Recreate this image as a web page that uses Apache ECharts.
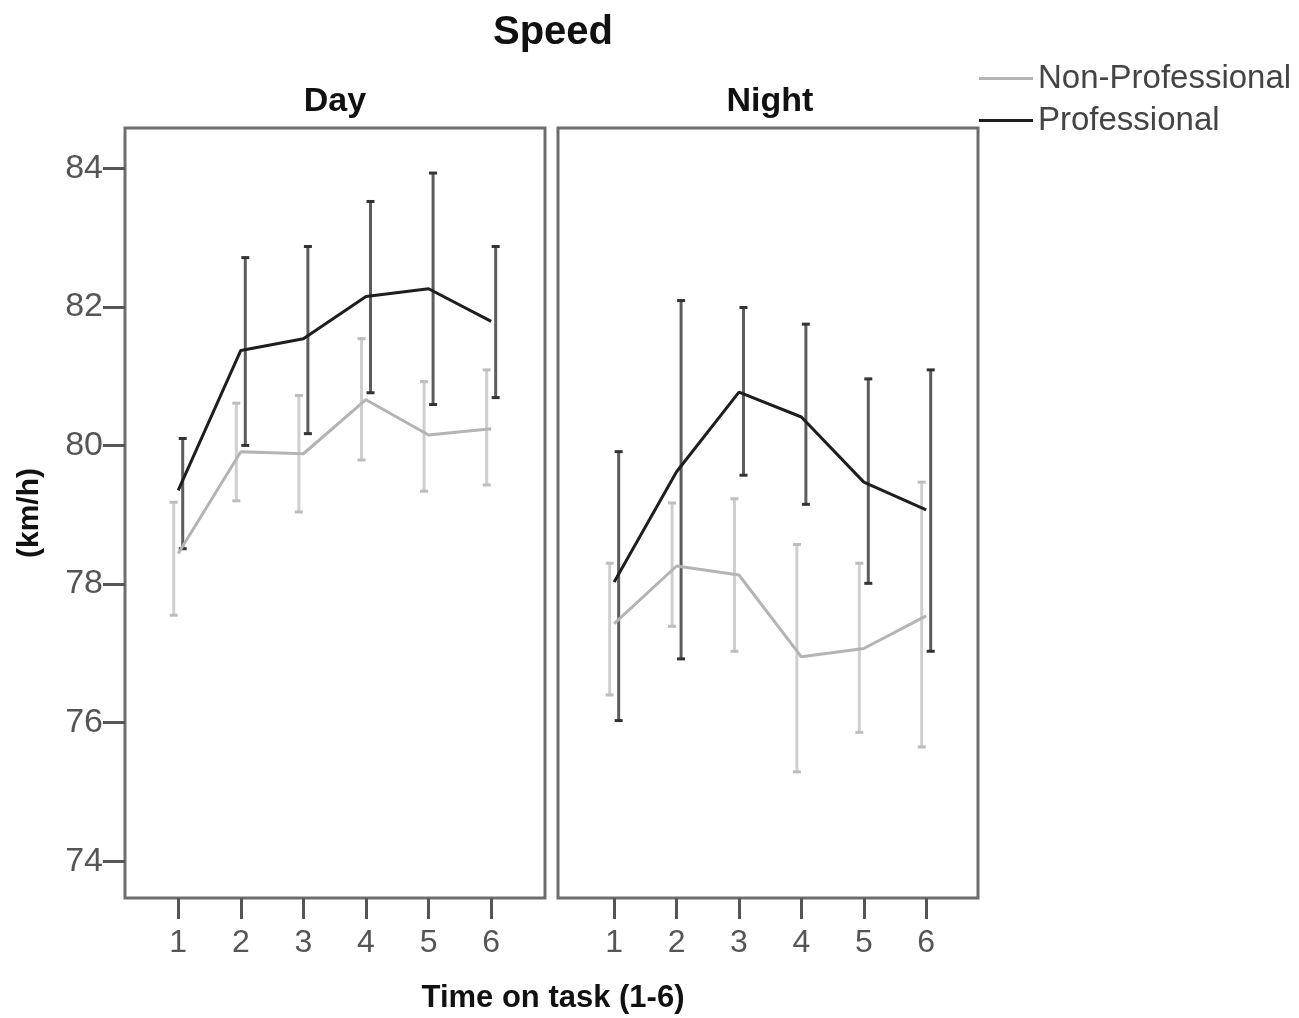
<!DOCTYPE html>
<html>
<head>
<meta charset="utf-8">
<script src="https://cdn.jsdelivr.net/npm/echarts@6/dist/echarts.min.js"></script>
<style>html,body{margin:0;padding:0;background:#fff}#c{width:1299px;height:1018px}</style>
</head>
<body>
<div id="c"></div>
<script>
const timeOnTask = [1, 2, 3, 4, 5, 6];
const yTicks = [74, 76, 78, 80, 82, 84];
const seriesNames = ['Non-Professional', 'Professional'];
const panelNames = ['Day', 'Night'];

const dayProMean  = [79.35, 81.37, 81.54, 82.15, 82.26, 81.79];
const dayProLow   = [78.51, 80.00, 80.17, 80.76, 80.59, 80.69];
const dayProHigh  = [80.10, 82.71, 82.87, 83.52, 83.93, 82.87];
const dayNonMean  = [78.44, 79.91, 79.88, 80.66, 80.15, 80.24];
const dayNonLow   = [77.55, 79.20, 79.04, 79.79, 79.34, 79.43];
const dayNonHigh  = [79.18, 80.61, 80.72, 81.54, 80.92, 81.09];

const nightProMean = [78.03, 79.62, 80.77, 80.41, 79.47, 79.07];
const nightProLow  = [76.03, 76.92, 79.57, 79.15, 78.01, 77.03];
const nightProHigh = [79.91, 82.09, 81.99, 81.75, 80.96, 81.09];
const nightNonMean = [77.43, 78.26, 78.13, 76.95, 77.07, 77.54];
const nightNonLow  = [76.40, 77.39, 77.03, 75.29, 75.86, 75.65];
const nightNonHigh = [78.30, 79.17, 79.23, 78.57, 78.30, 79.47];

const FONT = 'Liberation Sans';
const COL_NON = '#b4b4b4', COL_PRO = '#1e1e1e';
const BAR_NON = '#cfcfcf', BAR_PRO = '#5c5c5c';

function pairs(x, a) { return x.map((v, i) => [v, a[i]]); }
function triples(x, lo, hi) { return x.map((v, i) => [v, lo[i], hi[i]]); }

function errorBar(name, idx, lo, hi, color, capColor, lineColor, dx) {
  return {
    type: 'custom', name: name, xAxisIndex: idx, yAxisIndex: idx,
    data: triples(timeOnTask, lo, hi),
    encode: { x: 0, y: [1, 2] },
    itemStyle: { color: lineColor },
    z: 2, silent: true,
    renderItem: function (params, api) {
      const lowP = api.coord([api.value(0), api.value(1)]);
      const highP = api.coord([api.value(0), api.value(2)]);
      const x = lowP[0] + dx;
      const w = 4;
      return {
        type: 'group',
        children: [
          { type: 'line', shape: { x1: x, y1: highP[1], x2: x, y2: lowP[1] }, style: { stroke: color, lineWidth: 3 } },
          { type: 'line', shape: { x1: x - w, y1: highP[1], x2: x + w, y2: highP[1] }, style: { stroke: capColor, lineWidth: 3 } },
          { type: 'line', shape: { x1: x - w, y1: lowP[1], x2: x + w, y2: lowP[1] }, style: { stroke: capColor, lineWidth: 3 } }
        ]
      };
    }
  };
}

function meanLine(name, idx, mean, color) {
  return {
    type: 'line', name: name, xAxisIndex: idx, yAxisIndex: idx,
    data: pairs(timeOnTask, mean), showSymbol: false, symbol: 'none',
    color: color, itemStyle: { color: color }, lineStyle: { color: color, width: 3 }, z: 3, silent: true
  };
}

const xBase = {
  type: 'value',
  axisLine: { show: false }, splitLine: { show: false },
  axisTick: { show: true, inside: false, length: 21, customValues: timeOnTask, lineStyle: { color: '#555', width: 3 } },
  axisLabel: { customValues: timeOnTask, margin: 29, fontFamily: FONT, fontSize: 32, color: '#555' }
};

const yBase = {
  type: 'value', min: 73.47, max: 84.58,
  axisLine: { show: false }, splitLine: { show: false },
  axisTick: { show: true, inside: false, length: 22, customValues: yTicks, lineStyle: { color: '#555', width: 3 } },
  axisLabel: { customValues: yTicks, margin: 22, fontFamily: FONT, fontSize: 34, color: '#555' }
};

const option = {
  animation: false,
  backgroundColor: '#fff',
  title: [
    { text: 'Speed', left: 548, top: 8, textAlign: 'center', textStyle: { fontFamily: FONT, fontSize: 40, fontWeight: 'bold', color: '#111' } },
    { text: panelNames[0], left: 330, top: 80, textAlign: 'center', textStyle: { fontFamily: FONT, fontSize: 34, fontWeight: 'bold', color: '#111' } },
    { text: panelNames[1], left: 765, top: 80, textAlign: 'center', textStyle: { fontFamily: FONT, fontSize: 34, fontWeight: 'bold', color: '#111' } },
    { text: 'Time on task (1-6)', left: 548, top: 978, textAlign: 'center', textStyle: { fontFamily: FONT, fontSize: 31, fontWeight: 'bold', color: '#111' } }
  ],
  legend: {
    orient: 'vertical', left: 974, top: 57, itemGap: 9,
    icon: 'rect', itemWidth: 54, itemHeight: 3,
    data: [
      { name: seriesNames[0], itemStyle: { color: COL_NON } },
      { name: seriesNames[1], itemStyle: { color: COL_PRO } }
    ],
    textStyle: { fontFamily: FONT, fontSize: 33, color: '#444', padding: [0, 0, 0, 0] },
    selectedMode: false
  },
  grid: [
    { left: 125, top: 128, width: 420, height: 770, show: true, borderColor: '#6e6e6e', borderWidth: 3, backgroundColor: 'transparent' },
    { left: 558, top: 128, width: 420, height: 770, show: true, borderColor: '#6e6e6e', borderWidth: 3, backgroundColor: 'transparent' }
  ],
  xAxis: [
    Object.assign({}, xBase, { gridIndex: 0, min: 0.15, max: 6.86 }),
    Object.assign({}, xBase, { gridIndex: 1, min: 0.10, max: 6.83 })
  ],
  yAxis: [
    Object.assign({}, yBase, {
      gridIndex: 0, name: '(km/h)', nameLocation: 'middle', nameGap: 80, nameRotate: 90,
      nameTextStyle: { fontFamily: FONT, fontSize: 30, fontWeight: 'bold', color: '#111' }
    }),
    Object.assign({}, yBase, { gridIndex: 1, axisTick: { show: false }, axisLabel: { show: false } })
  ],
  series: [
    errorBar(seriesNames[0], 0, dayNonLow, dayNonHigh, BAR_NON, '#bdbdbd', COL_NON, -4.5),
    errorBar(seriesNames[1], 0, dayProLow, dayProHigh, BAR_PRO, '#333', COL_PRO, 4.5),
    meanLine(seriesNames[0], 0, dayNonMean, COL_NON),
    meanLine(seriesNames[1], 0, dayProMean, COL_PRO),
    errorBar(seriesNames[0], 1, nightNonLow, nightNonHigh, BAR_NON, '#bdbdbd', COL_NON, -4.5),
    errorBar(seriesNames[1], 1, nightProLow, nightProHigh, BAR_PRO, '#333', COL_PRO, 4.5),
    meanLine(seriesNames[0], 1, nightNonMean, COL_NON),
    meanLine(seriesNames[1], 1, nightProMean, COL_PRO)
  ]
};

const chart = echarts.init(document.getElementById('c'), null, { renderer: 'canvas' });
chart.setOption(option);
</script>
</body>
</html>
